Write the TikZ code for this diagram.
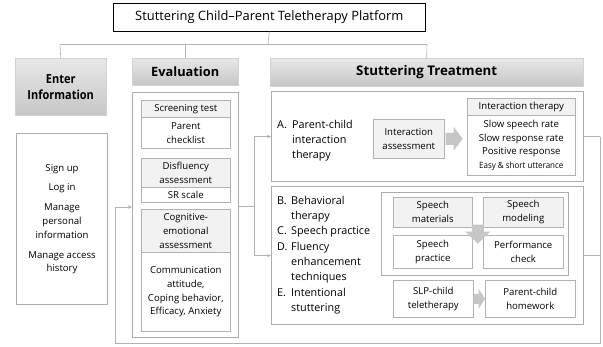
\documentclass[tikz,border=0pt]{standalone}
\usepackage{fontspec}
\setmainfont{Open Sans}
\usetikzlibrary{arrows.meta,calc}
\newcommand\fbody{\fontsize{9.6}{13.8}\selectfont}
\newcommand\flist{\fontsize{10.8}{15.3}\selectfont}
\tikzset{
  bx/.style={draw=gray!60, line width=0.6pt, inner sep=0pt, anchor=north west, align=center, font=\fbody},
  sbx/.style={bx, fill=gray!10},
  panel/.style={draw=gray!65, line width=1.1pt, inner sep=0pt, anchor=north west},
  hdr/.style={draw=gray!35, line width=0.4pt, top color=gray!18, bottom color=gray!45, inner sep=0pt, anchor=north west, align=center, font=\bfseries\fontsize{12.8}{14}\selectfont},
  conn/.style={draw=gray!60, line width=0.6pt},
  arr/.style={conn, -{Stealth[length=4pt,width=3.5pt]}},
  fat/.style={fill=gray!45}
}
\begin{document}
\begin{tikzpicture}[x=1pt,y=-1pt]
\useasboundingbox (0,0) rectangle (603,347);
% title
\node[draw=black, line width=0.7pt, minimum width=312, minimum height=28, inner sep=0pt, anchor=north west, font=\fontsize{12.9}{14}\selectfont] (title) at (113,3) {Stuttering Child–Parent Teletherapy Platform};
% headers
\node[hdr, minimum width=91, minimum height=57, font=\bfseries\fontsize{12.5}{16}\selectfont] (enter) at (15,58) {\scalebox{0.88}[1]{Enter}\\\scalebox{0.88}[1]{Information}};
\node[hdr, minimum width=106, minimum height=27] (evalh) at (132,58) {Evaluation};
\node[hdr, minimum width=313, minimum height=28, font=\bfseries\fontsize{13.3}{14}\selectfont] (treat) at (270,58) {Stuttering Treatment};
% tree
\coordinate (tj) at (268,44);
\coordinate (tl) at (60,44);
\coordinate (tr) at (427,44);
\draw[conn] (title.south) -- (tj);
\draw[conn] (tl) -- (tr);
\draw[conn] (tl) -- (enter.north);
\draw[conn] (evalh.north |- tl) -- (evalh.north);
\draw[conn] (tr) -- (treat.north);
% info box
\node[panel, minimum width=91, minimum height=171, align=center, font=\fbody] (info) at (16,133) {Sign up\\[6pt]Log in\\[6pt]Manage\\personal\\information\\[6pt]Manage access\\history};
% evaluation
\node[panel, minimum width=106, minimum height=245] (evalbox) at (132,92) {};
\node[sbx, minimum width=89, minimum height=17] (scr) at (141,100) {Screening test};
\node[bx, minimum width=89, minimum height=31] (parent) at (141,117) {Parent\\checklist};
\node[sbx, minimum width=89, minimum height=29] (disf) at (141,158) {Disfluency\\assessment};
\node[bx, minimum width=89, minimum height=15] (sr) at (141,187) {SR scale};
\node[sbx, minimum width=89, minimum height=43] (cog) at (141,209) {Cognitive-\\emotional\\assessment};
\node[bx, minimum width=89, minimum height=79] (cogc) at (141,252) {Communication\\attitude,\\Coping behavior,\\Efficacy, Anxiety};
% treatment A
\node[panel, minimum width=312, minimum height=90] (abox) at (271,91) {};
\node[anchor=west, inner sep=0pt, align=left, font=\flist] (atext) at (277,140.5) {\makebox[15pt][l]{A.}Parent-child\\\hspace*{15pt}interaction\\\hspace*{15pt}therapy};
\node[sbx, minimum width=71, minimum height=39] (iassess) at (373,119) {Interaction\\assessment};
\node[sbx, minimum width=108, minimum height=17] (ith) at (467,98) {Interaction therapy};
\node[bx, minimum width=108, minimum height=60] (itc) at (467,115) {Slow speech rate\\Slow response rate\\Positive response\\{\fontsize{8.6}{12}\selectfont\scalebox{0.93}[1]{Easy \& short utterance}}};
\fill[fat] ($(iassess.east)+(1,-6)$) -- ++(8,0) -- ++(0,-6) -- ++(9,12) -- ++(-9,12) -- ++(0,-6) -- ++(-8,0) -- cycle;
% treatment B
\node[panel, minimum width=312, minimum height=138] (bbox) at (271,186) {};
\node[anchor=west, inner sep=0pt, align=left, font=\flist] (btext) at (277,255) {\makebox[14pt][l]{B.}Behavioral\\\hspace*{14pt}therapy\\\makebox[14pt][l]{C.}Speech practice\\\makebox[14pt][l]{D.}Fluency\\\hspace*{14pt}enhancement\\\hspace*{14pt}techniques\\\makebox[14pt][l]{E.}Intentional\\\hspace*{14pt}stuttering};
\node[panel, minimum width=187, minimum height=83] (spbox) at (381,192) {};
\node[sbx, minimum width=79, minimum height=30] (smat) at (393,197) {Speech\\materials};
\node[sbx, minimum width=80, minimum height=30] (smod) at (483,197) {Speech\\modeling};
\node[bx, minimum width=79, minimum height=33] (sprac) at (393,235) {Speech\\practice};
\node[bx, minimum width=80, minimum height=33] (perf) at (483,235) {Performance\\check};
\coordinate (da) at ($(smat.south east)!0.5!(smod.south west)$);
\fill[fat] ($(da)+(-6,-3)$) -- ++(12,0) -- ++(0,7) -- ++(6.5,0) -- ++(-12.5,12) -- ++(-12.5,-12) -- ++(6.5,0) -- cycle;
\node[bx, minimum width=80, minimum height=37] (slp) at (393,280) {SLP-child\\teletherapy};
\node[bx, minimum width=90, minimum height=37] (hw) at (485,280) {Parent-child\\homework};
\fill[fat] ($(slp.east)+(0,-5)$) -- ++(5,0) -- ++(0,-5) -- ++(6.5,10) -- ++(-6.5,10) -- ++(0,-5) -- ++(-5,0) -- cycle;
% evaluation -> treatment
\coordinate (split) at (254,206);
\draw[conn] (evalbox.east |- split) -- (split);
\draw[arr] (split) |- (abox.west);
\draw[arr] (split) |- (bbox.west);
% feedback loop
\coordinate (fbr) at (600,343);
\coordinate (fbl) at (115,343);
\coordinate (fbin) at (115,207);
\draw[conn] (abox.east) -- (fbr |- abox.east);
\draw[conn] (bbox.east) -- (fbr |- bbox.east);
\draw[arr] (fbr |- abox.east) -- (fbr) -- (fbl) -- (fbin) -- (evalbox.west |- fbin);
\end{tikzpicture}
\end{document}
